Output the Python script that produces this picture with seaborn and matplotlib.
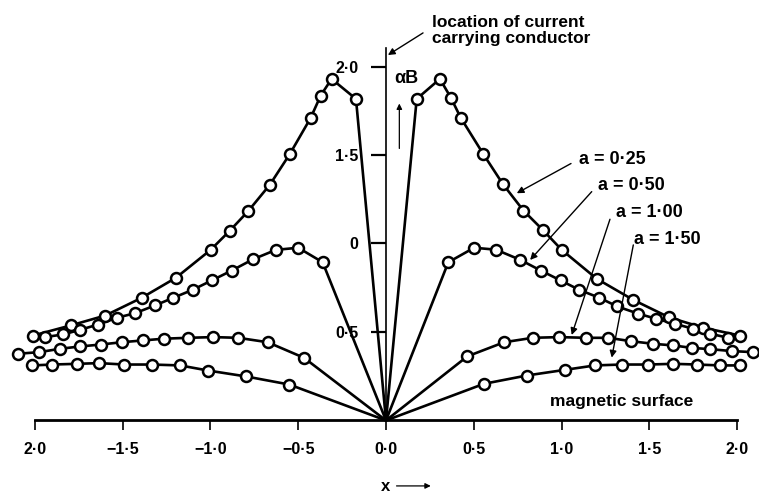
import matplotlib
matplotlib.use("Agg")
import matplotlib.pyplot as plt
import seaborn as sns
import pandas as pd

# ---- data (x, alpha*B) ----
x_a025 = [-2.010, -1.796, -1.599, -1.392, -1.197, -0.999, -0.889, -0.785, -0.661, -0.547,
          -0.429, -0.372, -0.310, -0.171, 0.0,
          0.175, 0.307, 0.369, 0.426, 0.554, 0.665, 0.783, 0.893, 1.001, 1.200, 1.409,
          1.614, 1.804, 2.014]
y_a025 = [0.480, 0.537, 0.593, 0.693, 0.806, 0.964, 1.073, 1.183, 1.333, 1.507,
          1.710, 1.836, 1.930, 1.817, 0.0,
          1.817, 1.930, 1.825, 1.710, 1.506, 1.337, 1.186, 1.077, 0.964, 0.801, 0.681,
          0.582, 0.525, 0.480]

x_a050 = [-1.943, -1.839, -1.744, -1.640, -1.534, -1.430, -1.316, -1.212, -1.102, -0.993,
          -0.879, -0.757, -0.627, -0.500, -0.361, 0.0,
          0.355, 0.502, 0.627, 0.764, 0.882, 0.995, 1.101, 1.216, 1.318, 1.438,
          1.538, 1.646, 1.751, 1.846, 1.951]
y_a050 = [0.471, 0.486, 0.512, 0.542, 0.580, 0.606, 0.650, 0.693, 0.738, 0.791,
          0.847, 0.911, 0.964, 0.976, 0.894, 0.0,
          0.894, 0.976, 0.965, 0.908, 0.847, 0.791, 0.738, 0.693, 0.644, 0.603,
          0.575, 0.546, 0.518, 0.490, 0.467]

x_a100 = [-2.095, -1.975, -1.857, -1.744, -1.625, -1.506, -1.387, -1.265, -1.127, -0.984,
          -0.842, -0.674, -0.467, 0.0,
          0.463, 0.673, 0.836, 0.987, 1.140, 1.267, 1.395, 1.523, 1.637, 1.742,
          1.846, 1.970, 2.093]
y_a100 = [0.377, 0.386, 0.405, 0.418, 0.429, 0.442, 0.452, 0.462, 0.467, 0.471,
          0.467, 0.442, 0.354, 0.0,
          0.362, 0.442, 0.467, 0.471, 0.467, 0.467, 0.448, 0.433, 0.424, 0.410,
          0.403, 0.392, 0.386]

x_a150 = [-2.014, -1.900, -1.759, -1.633, -1.493, -1.335, -1.173, -1.013, -0.799, -0.551, 0.0,
          0.558, 0.802, 1.020, 1.191, 1.343, 1.495, 1.637, 1.771, 1.903, 2.017]
y_a150 = [0.311, 0.316, 0.320, 0.324, 0.316, 0.316, 0.311, 0.282, 0.249, 0.203, 0.0,
          0.207, 0.254, 0.286, 0.311, 0.316, 0.316, 0.320, 0.316, 0.311, 0.311]

curve_labels = ["a = 0·25", "a = 0·50", "a = 1·00", "a = 1·50"]
x_ticks = [-2.0, -1.5, -1.0, -0.5, 0.0, 0.5, 1.0, 1.5, 2.0]
x_ticklabels = ["2·0", "−1·5", "−1·0", "−0·5", "0·0", "0·5", "1·0", "1·5", "2·0"]
y_ticks = [0.5, 1.0, 1.5, 2.0]
y_ticklabels = ["0·5", "0", "1·5", "2·0"]

# ---- styling ----
sns.set_style("white")
plt.rcParams["font.family"] = ["Liberation Sans", "DejaVu Sans"]
plt.rcParams["font.weight"] = "bold"
plt.rcParams["text.color"] = "black"

fig = plt.figure(figsize=(7.59, 4.93), dpi=100)
ax = fig.add_axes([0, 0, 1, 1])
ax.set_facecolor("white")

curves = [(x_a025, y_a025), (x_a050, y_a050), (x_a100, y_a100), (x_a150, y_a150)]
for xs, ys in curves:
    df = pd.DataFrame({"x": xs, "y": ys})
    sns.lineplot(data=df, x="x", y="y", sort=False, estimator=None, color="black",
                 linewidth=1.9, ax=ax, zorder=2)
    pts = df[df["x"] != 0.0]
    sns.scatterplot(data=pts, x="x", y="y", ax=ax, marker="o", s=62,
                    facecolor="white", edgecolor="black", linewidth=1.8, zorder=3)

ax.set_xlim(-2.199, 2.125)
ax.set_ylim(-0.41, 2.376)
ax.set_xlabel("")
ax.set_ylabel("")

for s in ["top", "right"]:
    ax.spines[s].set_visible(False)
ax.spines["bottom"].set_position(("data", 0))
ax.spines["bottom"].set_bounds(-2.0, 2.0)
ax.spines["bottom"].set_linewidth(2.0)
ax.spines["bottom"].set_color("black")
ax.spines["left"].set_position(("data", 0))
ax.spines["left"].set_bounds(0, 2.104)
ax.spines["left"].set_linewidth(1.2)
ax.spines["left"].set_color("black")

ax.set_xticks(x_ticks)
ax.set_xticklabels(x_ticklabels, fontweight="bold")
ax.set_yticks(y_ticks)
ax.set_yticklabels(y_ticklabels, fontweight="bold")
ax.tick_params(axis="x", direction="out", length=7, width=1.2, pad=8.5,
               labelsize=11.5, colors="black", bottom=True)
ax.tick_params(axis="y", direction="out", length=11, width=1.6, pad=9,
               labelsize=11.5, colors="black", left=True)

# ---- annotations ----
arrow = dict(arrowstyle="-|>", color="black", lw=1.0, mutation_scale=10,
             shrinkA=0, shrinkB=0)
small_arrow = dict(arrowstyle="-|>", color="black", lw=0.9, mutation_scale=8,
                   shrinkA=0, shrinkB=0)

ax.text(0.262, 2.204, "location of current\ncarrying conductor", ha="left", va="center",
        fontsize=12.5, fontweight="bold", linespacing=1.1)
ax.annotate("", xy=(0.011, 2.065), xytext=(0.211, 2.19), arrowprops=arrow)

ax.text(0.116, 1.93, "αB", ha="center", va="center", fontsize=13, fontweight="bold")
ax.annotate("", xy=(0.076, 1.791), xytext=(0.076, 1.537), arrowprops=small_arrow)

label_pos = [(1.101, 1.476), (1.206, 1.325), (1.311, 1.174), (1.415, 1.020)]
arrow_tail = [(1.054, 1.452), (1.172, 1.293), (1.276, 1.137), (1.409, 0.992)]
arrow_head = [(0.745, 1.284), (0.821, 0.907), (1.058, 0.483), (1.286, 0.355)]
for lab, (tx, ty), tail, head in zip(curve_labels, label_pos, arrow_tail, arrow_head):
    ax.text(tx, ty, lab, ha="left", va="center", fontsize=13, fontweight="bold")
    ax.annotate("", xy=head, xytext=tail, arrowprops=arrow)

ax.text(0.934, 0.105, "magnetic surface", ha="left", va="center", fontsize=12.5,
        fontweight="bold")

ax.text(0.0, -0.374, "x", ha="center", va="center", fontsize=12, fontweight="bold")
ax.annotate("", xy=(0.255, -0.37), xytext=(0.06, -0.37), arrowprops=small_arrow)

fig.savefig("out.png", dpi=100, facecolor="white")
